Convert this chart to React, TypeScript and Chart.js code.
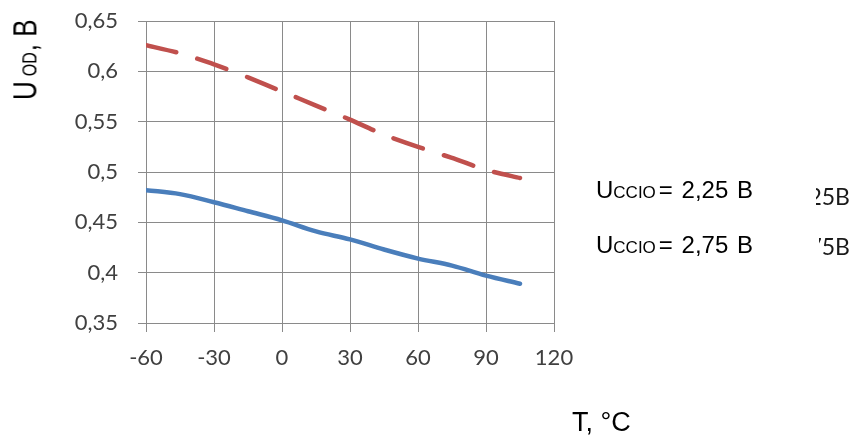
import React, { useEffect, useRef } from "react";
import { Chart, registerables } from "chart.js";

Chart.register(...registerables);

// ---- data ----
const temps = [-60, -45, -30, -15, 0, 15, 30, 45, 60, 75, 90, 105];
const u225 = [0.482, 0.478, 0.47, 0.461, 0.452, 0.441, 0.433, 0.423, 0.414, 0.407, 0.397, 0.389];
const u275 = [0.626, 0.618, 0.607, 0.594, 0.58, 0.566, 0.552, 0.537, 0.525, 0.514, 0.502, 0.494];
const seriesNames = ["2,25 B", "2,75 B"];
const clippedNames = ["2,25B", "2,75B"];
const xTicks = [-60, -30, 0, 30, 60, 90, 120];
const xTickLabels = ["-60", "-30", "0", "30", "60", "90", "120"];
const yTicks = [0.35, 0.4, 0.45, 0.5, 0.55, 0.6, 0.65];
const yTickLabels = ["0,35", "0,4", "0,45", "0,5", "0,55", "0,6", "0,65"];

const BLUE = "#4A7EBB";
const RED = "#C0504D";
const GRID = "#8a8a8a";
const TICK_COLOR = "#404040";

export default function App() {
  const ref = useRef<HTMLCanvasElement | null>(null);

  useEffect(() => {
    if (!ref.current) return;
    const chart = new Chart(ref.current, {
      type: "line",
      data: {
        datasets: [
          {
            label: seriesNames[0],
            data: temps.map((t, i) => ({ x: t, y: u225[i] })),
            borderColor: BLUE,
            borderWidth: 4.5,
            pointRadius: 0,
            tension: 0.35,
            borderCapStyle: "round",
          },
          {
            label: seriesNames[1],
            data: temps.map((t, i) => ({ x: t, y: u275[i] })),
            borderColor: RED,
            borderWidth: 4.5,
            pointRadius: 0,
            tension: 0.2,
            borderDash: [31, 22],
            borderCapStyle: "round",
          },
        ],
      },
      options: {
        responsive: false,
        animation: false,
        layout: { padding: { top: 21, left: 0, right: 301, bottom: 0 } },
        plugins: { legend: { display: false }, tooltip: { enabled: false } },
        scales: {
          x: {
            type: "linear",
            min: -60,
            max: 120,
            afterBuildTicks: (s: any) => {
              s.ticks = xTicks.map((v) => ({ value: v }));
            },
            afterFit: (s: any) => {
              s.height = 118;
              s.paddingLeft = 0;
              s.paddingRight = 0;
              s.paddingTop = 0;
              s.paddingBottom = 0;
            },
            ticks: {
              autoSkip: false,
              maxRotation: 0,
              padding: 13,
              color: TICK_COLOR,
              font: { family: "Lato", size: 22 },
              callback: (_v: any, i: number) => xTickLabels[i],
            },
            grid: { color: GRID, lineWidth: 1, tickLength: 9 },
            border: { color: GRID, width: 1 },
          },
          y: {
            type: "linear",
            min: 0.35,
            max: 0.65,
            afterBuildTicks: (s: any) => {
              s.ticks = yTicks.map((v) => ({ value: v }));
            },
            afterFit: (s: any) => {
              s.width = 146;
              s.paddingLeft = 0;
              s.paddingRight = 0;
              s.paddingTop = 0;
              s.paddingBottom = 0;
            },
            ticks: {
              padding: 20,
              color: TICK_COLOR,
              font: { family: "Lato", size: 22 },
              callback: (_v: any, i: number) => yTickLabels[i],
            },
            grid: { color: GRID, lineWidth: 1, tickLength: 8 },
            border: { color: GRID, width: 1 },
          },
        },
      },
    });
    return () => chart.destroy();
  }, []);

  const arial = "'Liberation Sans', Arial, sans-serif";

  const legendRow = (name: string, baseline: number) => (
    <div
      style={{
        position: "absolute",
        left: 596,
        top: baseline - 0.8465 * 24,
        fontFamily: arial,
        fontSize: 24,
        lineHeight: "24px",
        whiteSpace: "nowrap",
        color: "#000",
        wordSpacing: 2,
      }}
    >
      <span>U</span>
      <span style={{ fontSize: 17 }}>CCIO</span>
      <span style={{ marginLeft: 3 }}>= {name}</span>
    </div>
  );

  const clippedRow = (name: string, baseline: number, clipLeft: number) => (
    <div
      style={{
        position: "absolute",
        left: clipLeft,
        width: 850 - clipLeft,
        top: baseline - 20,
        height: 28,
        overflow: "hidden",
      }}
    >
      <div
        style={{
          position: "absolute",
          right: 0,
          top: 0,
          fontFamily: "Lato",
          fontSize: 23,
          lineHeight: "23px",
          whiteSpace: "nowrap",
          color: "#1a1a1a",
        }}
      >
        {name}
      </div>
    </div>
  );

  return (
    <div style={{ position: "absolute", left: 0, top: 0, width: 855, height: 441, background: "#fff" }}>
      <canvas ref={ref} width={855} height={441} style={{ width: 855, height: 441, display: "block" }} />
      {legendRow(seriesNames[0], 198)}
      {legendRow(seriesNames[1], 253)}
      {clippedRow(clippedNames[0], 205, 816)}
      {clippedRow(clippedNames[1], 255, 819)}
      {/* x axis title */}
      <div
        style={{
          position: "absolute",
          left: 572,
          top: 432 - 0.8465 * 27,
          fontFamily: arial,
          fontSize: 27,
          lineHeight: "27px",
          whiteSpace: "nowrap",
          color: "#000",
        }}
      >
        T, °C
      </div>
      {/* y axis title (rotated) */}
      <div
        style={{
          position: "absolute",
          left: 37 - 1.3 * 0.8465 * 26,
          top: 100,
          fontFamily: arial,
          fontSize: 26,
          lineHeight: "26px",
          whiteSpace: "nowrap",
          color: "#000",
          transformOrigin: "0 0",
          transform: "rotate(-90deg) scale(1, 1.3)",
        }}
      >
        <span>U</span>
        <span style={{ fontSize: 16, marginLeft: 5 }}>OD</span>
        <span style={{ marginLeft: 1 }}>, B</span>
      </div>
    </div>
  );
}
